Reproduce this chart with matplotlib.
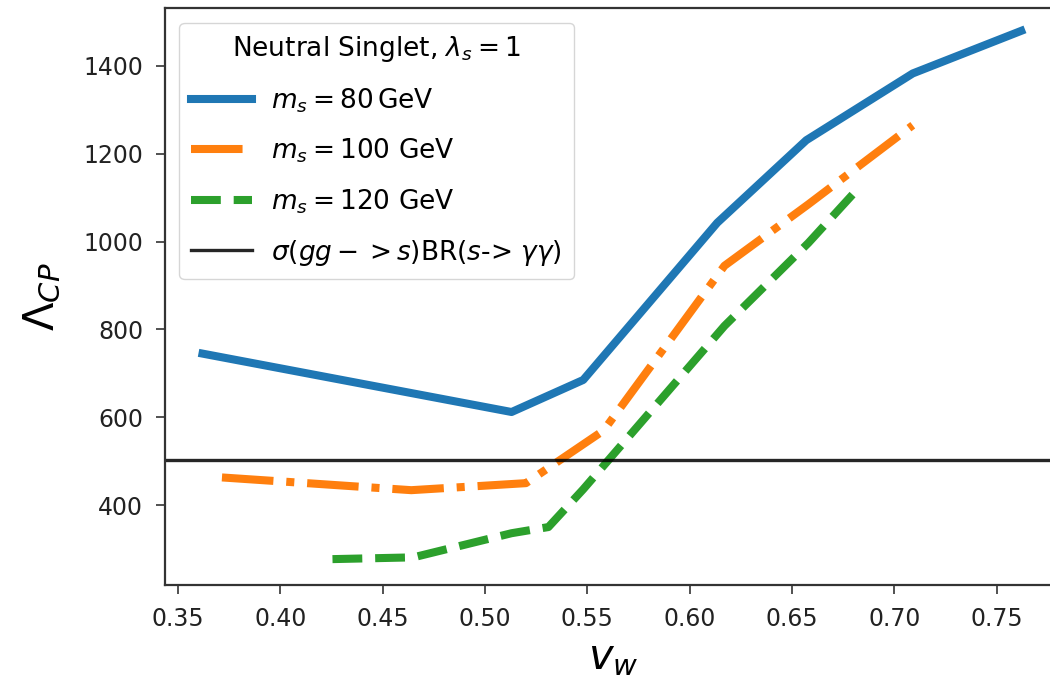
import matplotlib.pyplot as plt

# blue: m_s = 80 GeV
vw_80 = [0.362, 0.513, 0.548, 0.6135, 0.657, 0.709, 0.762]
lam_80 = [745, 612, 685, 1043, 1231, 1383, 1480]

# orange: m_s = 100 GeV
vw_100 = [0.3715, 0.464, 0.52, 0.558, 0.617, 0.658, 0.709]
lam_100 = [463, 434, 450, 570, 945, 1085, 1265]

# green: m_s = 120 GeV
vw_120 = [0.4255, 0.465, 0.513, 0.531, 0.548, 0.617, 0.658, 0.6825]
lam_120 = [277, 281, 336, 350, 436, 808, 997, 1122]

bound = 502

fig = plt.figure(figsize=(10.5, 6.79), dpi=100)
ax = fig.add_axes([0.157, 0.1384, 0.854, 0.8498])

ax.plot(vw_80, lam_80, color='#1f77b4', lw=5.8, label=r'$m_s = 80\,$GeV')
ax.plot(vw_100, lam_100, color='#ff7f0e', lw=5.8, ls='-.', label=r'$m_s = 100$ GeV')
ax.plot(vw_120, lam_120, color='#2ca02c', lw=5.8, ls='--', label=r'$m_s = 120$ GeV')
ax.axhline(bound, color='k', lw=2.4, alpha=0.85,
           label=r'$\sigma(gg->s)$BR($s$-> $\gamma\gamma$)')

ax.set_xlim(0.3436, 0.7817)
ax.set_ylim(218, 1532)
ax.set_xticks([0.35, 0.40, 0.45, 0.50, 0.55, 0.60, 0.65, 0.70, 0.75])
ax.set_yticks([400, 600, 800, 1000, 1200, 1400])
ax.tick_params(labelsize=17, length=6.5, width=1.2, pad=9, colors='#333333', labelcolor='#222222')
for s in ax.spines.values():
    s.set_linewidth(1.6)
    s.set_color('#333333')
ax.spines['right'].set_visible(False)

ax.set_xlabel(r'$v_w$', fontsize=30, labelpad=4)
ax.set_ylabel(r'$\Lambda_{CP}$', fontsize=30, labelpad=15)

leg = ax.legend(loc='upper left', fontsize=19, title=r'Neutral Singlet, $\lambda_s = 1$',
                title_fontsize=19, handlelength=2.3, handletextpad=0.74,
                labelspacing=0.83, borderaxespad=0.55, borderpad=0.45)

fig.savefig('out.png', dpi=100)
